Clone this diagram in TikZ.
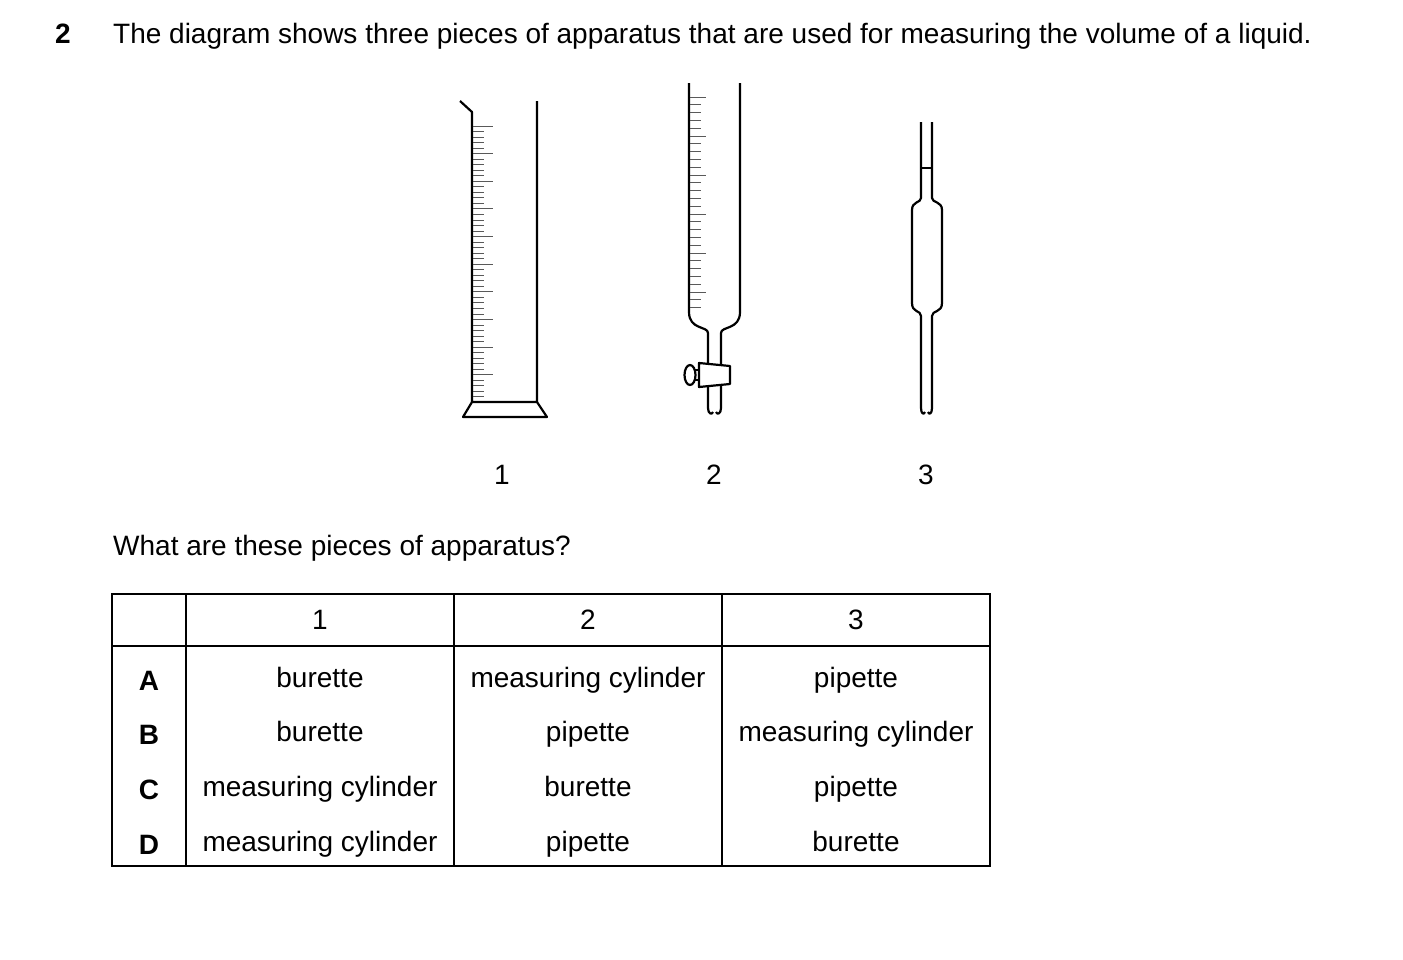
\documentclass[tikz,border=0pt]{standalone}
\usepackage{fontspec}
\setmainfont{Liberation Sans}
\usetikzlibrary{positioning}

\begin{document}
\begin{tikzpicture}[
  x=1pt, y=-1pt,
  glass/.style={line width=2.2pt, line join=round},
  tick/.style={line width=1pt, gray!70!black},
  txt/.style={font=\fontsize{28}{33}\selectfont, inner sep=0pt},
  bold/.style={font=\fontsize{28}{33}\selectfont\bfseries, inner sep=0pt},
  grid/.style={line width=1.1pt}
]
\useasboundingbox (0,0) rectangle (1403,959);

% Question
\node[bold, anchor=base west] (qnum) at (55,43) {2};
\node[txt, anchor=base west] (qtext) at (113,43) {The diagram shows three pieces of apparatus that are used for measuring the volume of a liquid.};

% Apparatus 1: measuring cylinder
\draw[glass] (460,101) -- (472,112) -- (472,402) -- (537,402) -- (537,101);
\draw[glass] (472,402) -- (463,417) -- (547,417) -- (537,402);
\foreach \i in {0,...,49} {
  \pgfmathsetmacro{\len}{ifthenelse(mod(\i,5)==0,20,11)}
  \draw[tick] (473,126+\i*5.53) -- ++(\len,0);
}

% Apparatus 2: burette
\draw[glass] (689,83) -- (689,312) .. controls (689,330) and (708,326) .. (708,333) -- (708,408)
  .. controls (708,414) and (712,415) .. (713,412);
\draw[glass] (740,83) -- (740,312) .. controls (740,330) and (721,326) .. (721,333) -- (721,408)
  .. controls (721,414) and (717,415) .. (716,412);
\foreach \i in {0,...,27} {
  \pgfmathsetmacro{\len}{ifthenelse(mod(\i,5)==0,16,11)}
  \draw[tick] (690,97+\i*7.8) -- ++(\len,0);
}
% Stopcock
\draw[glass, fill=white] (699,363) -- (730,366) -- (730,384) -- (699,387) -- cycle;
\draw[glass, fill=white] (690,375) ellipse (5.5 and 10);
\draw[glass] (695,370) -- (699,370);
\draw[glass] (695,380) -- (699,380);

% Apparatus 3: pipette
\draw[glass] (921,122) -- (921,198) .. controls (921,203) and (912,201) .. (912,210) -- (912,303)
  .. controls (912,313) and (921,310) .. (921,316) -- (921,408)
  .. controls (921,414) and (924,415) .. (925,412);
\draw[glass] (932,122) -- (932,198) .. controls (932,203) and (942,201) .. (942,210) -- (942,303)
  .. controls (942,313) and (932,310) .. (932,316) -- (932,408)
  .. controls (932,414) and (929,415) .. (928,412);
\draw[glass] (921,168) -- (932,168);

% Labels
\node[txt] (lab1) at (502,475) {1};
\node[txt] (lab2) at (714,475) {2};
\node[txt] (lab3) at (926,475) {3};

\node[txt, anchor=base west] (ask) at (113,555) {What are these pieces of apparatus?};

% Table
\draw[grid] (112,594) rectangle (990,866);
\draw[grid] (112,646) -- (990,646);
\foreach \x in {186,454,722} \draw[grid] (\x,594) -- (\x,866);

\node[txt] (h1) at (320,620) {1};
\node[txt] (h2) at (588,620) {2};
\node[txt] (h3) at (856,620) {3};

\foreach \k/\y/\a/\b/\c in {A/681/burette/measuring cylinder/pipette,
                            B/735/burette/pipette/measuring cylinder,
                            C/790/measuring cylinder/burette/pipette,
                            D/845/measuring cylinder/pipette/burette} {
  \node[bold] (key\k) at (149,\y) {\k};
  \node[txt] (one\k) at (320,\y) {\strut\a};
  \node[txt] (two\k) at (588,\y) {\strut\b};
  \node[txt] (three\k) at (856,\y) {\strut\c};
}
\end{tikzpicture}
\end{document}
